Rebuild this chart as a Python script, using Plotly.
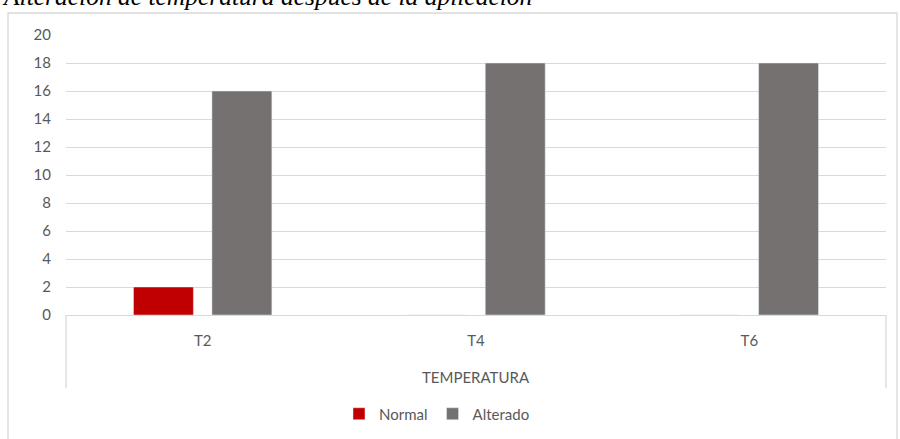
import plotly.graph_objects as go

categories = ["T2", "T4", "T6"]
normal = [2, 0, 0]
alterado = [16, 18, 18]
y_ticks = list(range(0, 21, 2))

RED = "#C00000"
GRAY = "#767171"
GRID = "#D9D9D9"
TEXT = "#595959"

# plot area in pixels: x 66..886, y 35..315
L, R, T, B = 66, 886, 35, 315
W, H = 900, 439


def px(x):
    return (x - L) / (R - L)


def py(y):
    return (B - y) / (B - T)


fig = go.Figure()
fig.add_trace(go.Bar(x=categories, y=normal, name="Normal", marker_color=RED))
fig.add_trace(go.Bar(x=categories, y=alterado, name="Alterado", marker_color=GRAY))

# outer chart frame
fig.add_shape(type="rect", xref="paper", yref="paper",
              x0=px(8), x1=px(897), y0=py(450), y1=py(13),
              line=dict(color=GRID, width=1.3), layer="below")
# category box edges
for x in (0, 1):
    fig.add_shape(type="line", xref="paper", yref="paper",
                  x0=x, x1=x, y0=0, y1=py(388),
                  line=dict(color=GRID, width=1.3))

fig.add_annotation(text="TEMPERATURA", xref="paper", yref="paper",
                   x=0.5, y=py(377), showarrow=False, yanchor="middle",
                   font=dict(size=15, color=TEXT))
fig.add_annotation(text="<i>Alteración de temperatura después de la aplicación</i>",
                   xref="paper", yref="paper", x=px(0), y=py(13),
                   xanchor="left", yanchor="bottom", showarrow=False,
                   font=dict(family="Liberation Serif", size=25.5, color="#000000"))

fig.update_layout(
    width=W, height=H,
    margin=dict(l=L, r=W - R, t=T, b=H - B, autoexpand=False),
    paper_bgcolor="white", plot_bgcolor="white",
    font=dict(family="Lato", color=TEXT, size=15),
    barmode="group", bargap=0.426, bargroupgap=0.236,
    showlegend=True,
    legend=dict(orientation="h", x=px(437), y=py(414), xanchor="center",
                yanchor="middle", font=dict(size=15, color=TEXT),
                itemwidth=30, tracegroupgap=0),
    xaxis=dict(showline=True, linecolor=GRID, linewidth=1.3, showgrid=False,
               ticks="", ticklabelstandoff=12, automargin=False),
    yaxis=dict(range=[0, 20], tickvals=y_ticks, showgrid=True, gridcolor=GRID,
               gridwidth=1.3, zeroline=False, showline=False,
               ticklabelstandoff=14, automargin=False),
)

# drop the default page margin so the figure sits at the window's corner
fig.write_html("out.html", config={"displayModeBar": False},
               post_script="document.body.style.margin='0';")
